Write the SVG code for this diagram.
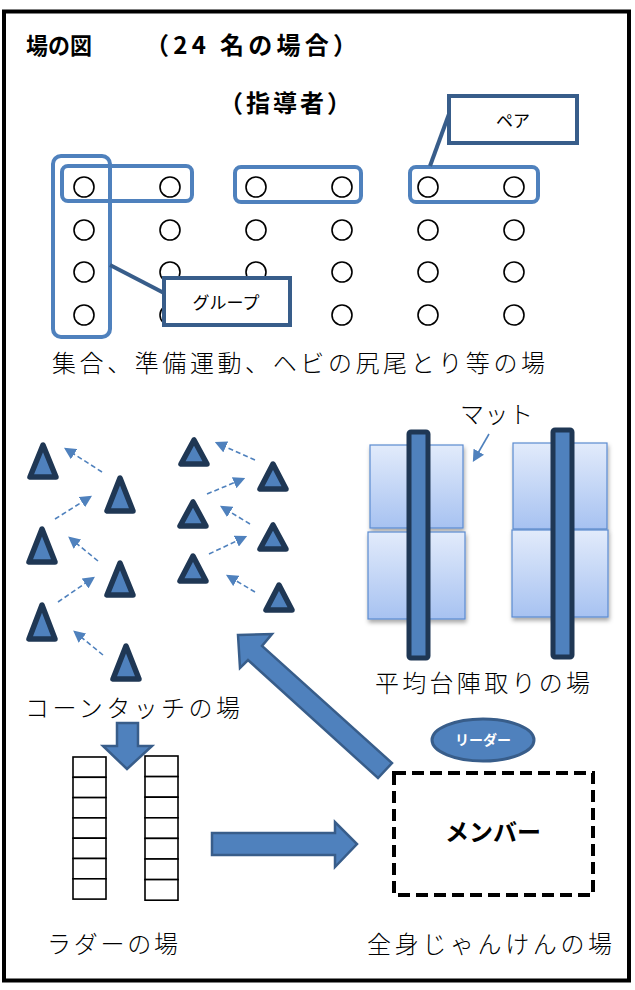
<svg xmlns="http://www.w3.org/2000/svg" width="635" height="990" viewBox="0 0 635 990">
<style>
.jp{font-family:"Noto Sans CJK JP","Noto Sans",sans-serif;fill:#000}
.lbl{font-size:24px;font-weight:300}
.b{font-weight:bold}
.dot{fill:#fff;stroke:#000;stroke-width:1.6}
.grp{fill:none;stroke:#4F81BD;stroke-width:4}
.call{fill:#fff;stroke:#385D8A;stroke-width:4}
.cline{stroke:#385D8A;stroke-width:4;fill:none}
.cone{fill:#4F81BD;stroke:#1F3754;stroke-width:5.5;stroke-linejoin:round}
.dash{stroke:#4F81BD;stroke-width:1.6;stroke-dasharray:5 3;fill:none}
.mat{fill:url(#mg);stroke:#5B8BD0;stroke-width:1.2;filter:url(#sh)}
.beam{fill:#4F81BD;stroke:#1F3754;stroke-width:5;stroke-linejoin:round}
.big{fill:#4F81BD;stroke:#385D8A;stroke-width:2.5;stroke-linejoin:miter}
.lad{fill:#fff;stroke:#000;stroke-width:1.6}
</style>
<defs>
<linearGradient id="mg" x1="0" y1="0" x2="0" y2="1">
<stop offset="0" stop-color="#E2EBFB"/>
<stop offset="1" stop-color="#A7C2F1"/>
</linearGradient>
<filter id="sh" x="-20%" y="-20%" width="140%" height="140%">
<feDropShadow dx="1" dy="3" stdDeviation="2" flood-color="#000" flood-opacity="0.35"/>
</filter>
<marker id="tri" viewBox="0 0 10 10" refX="8" refY="5" markerWidth="12" markerHeight="12" orient="auto" markerUnits="userSpaceOnUse">
<path d="M0,0 L10,5 L0,10 z" fill="#4F81BD"/>
</marker>
</defs>

<rect x="4" y="11.5" width="625" height="969" fill="#fff" stroke="#000" stroke-width="4"/>

<g id="title">
<text class="jp b" x="26" y="54" font-size="23" textLength="66" lengthAdjust="spacingAndGlyphs">場の図</text>
<text class="jp b" x="145" y="54" font-size="24" textLength="212" lengthAdjust="spacing">（24 名の場合）</text>
</g>
<g id="leader-top">
<text class="jp b" x="219" y="112" font-size="24" textLength="132" lengthAdjust="spacing">（指導者）</text>
</g>

<g id="players">
<circle class="dot" cx="84" cy="187" r="10"/><circle class="dot" cx="170" cy="187" r="10"/><circle class="dot" cx="256" cy="187" r="10"/><circle class="dot" cx="342" cy="187" r="10"/><circle class="dot" cx="428" cy="187" r="10"/><circle class="dot" cx="514" cy="187" r="10"/>
<circle class="dot" cx="84" cy="230" r="10"/><circle class="dot" cx="170" cy="230" r="10"/><circle class="dot" cx="256" cy="230" r="10"/><circle class="dot" cx="342" cy="230" r="10"/><circle class="dot" cx="428" cy="230" r="10"/><circle class="dot" cx="514" cy="230" r="10"/>
<circle class="dot" cx="84" cy="272" r="10"/><circle class="dot" cx="170" cy="272" r="10"/><circle class="dot" cx="256" cy="272" r="10"/><circle class="dot" cx="342" cy="272" r="10"/><circle class="dot" cx="428" cy="272" r="10"/><circle class="dot" cx="514" cy="272" r="10"/>
<circle class="dot" cx="84" cy="315" r="10"/><circle class="dot" cx="170" cy="315" r="10"/><circle class="dot" cx="256" cy="315" r="10"/><circle class="dot" cx="342" cy="315" r="10"/><circle class="dot" cx="428" cy="315" r="10"/><circle class="dot" cx="514" cy="315" r="10"/>
</g>

<g id="pair-boxes">
<rect class="grp" x="62" y="166" width="130" height="35" rx="6"/>
<rect class="grp" x="235" y="167" width="126" height="35" rx="6"/>
<rect class="grp" x="410" y="167" width="128" height="35" rx="6"/>
</g>
<g id="group-box">
<rect class="grp" x="53" y="156" width="57" height="181" rx="8"/>
</g>

<g id="connectors">
<line class="cline" x1="430" y1="166" x2="449" y2="114"/>
<line class="cline" x1="110" y1="265" x2="164" y2="293"/>
</g>

<g id="pair-label">
<rect class="call" x="449" y="96" width="128" height="47"/>
<text class="jp" x="513" y="127" font-size="17" text-anchor="middle">ペア</text>
</g>
<g id="group-label">
<rect class="call" x="164" y="278" width="126" height="47"/>
<text class="jp" x="226" y="309" font-size="17" text-anchor="middle">グループ</text>
</g>

<g id="label-gather">
<text class="jp lbl" x="52" y="372" textLength="493" lengthAdjust="spacing">集合、準備運動、ヘビの尻尾とり等の場</text>
</g>

<g id="cones">
<polygon class="cone" points="43,445 30,477 56,477"/>
<polygon class="cone" points="120,478 107,511 133,511"/>
<polygon class="cone" points="42,529 29,562 55,562"/>
<polygon class="cone" points="120,563 107,595 133,595"/>
<polygon class="cone" points="42,605 29,639 55,639"/>
<polygon class="cone" points="126,646 113,679 139,679"/>
<polygon class="cone" points="194,440 181,464 207,464"/>
<polygon class="cone" points="273,464 260,489 286,489"/>
<polygon class="cone" points="193,502 180,526 206,526"/>
<polygon class="cone" points="273,525 260,549 286,549"/>
<polygon class="cone" points="193,556 180,581 206,581"/>
<polygon class="cone" points="279,585 266,610 292,610"/>
</g>

<g id="cone-arrows">
<line class="dash" x1="102" y1="472" x2="66" y2="449" marker-end="url(#tri)"/>
<line class="dash" x1="55" y1="519" x2="90" y2="497" marker-end="url(#tri)"/>
<line class="dash" x1="98" y1="561" x2="70" y2="538" marker-end="url(#tri)"/>
<line class="dash" x1="58" y1="602" x2="93" y2="578" marker-end="url(#tri)"/>
<line class="dash" x1="103" y1="655" x2="75" y2="632" marker-end="url(#tri)"/>
<line class="dash" x1="255" y1="460" x2="217" y2="443" marker-end="url(#tri)"/>
<line class="dash" x1="207" y1="494" x2="243" y2="479" marker-end="url(#tri)"/>
<line class="dash" x1="250" y1="524" x2="222" y2="507" marker-end="url(#tri)"/>
<line class="dash" x1="209" y1="554" x2="245" y2="537" marker-end="url(#tri)"/>
<line class="dash" x1="255" y1="592" x2="228" y2="576" marker-end="url(#tri)"/>
</g>

<g id="label-cone">
<text class="jp lbl" x="25" y="717" textLength="215" lengthAdjust="spacing">コーンタッチの場</text>
</g>

<g id="mats">
<rect class="mat" x="370" y="445" width="93" height="83"/>
<rect class="mat" x="368" y="532" width="97" height="87"/>
<rect class="mat" x="513" y="443" width="94" height="86"/>
<rect class="mat" x="512" y="530" width="96" height="87"/>
</g>
<g id="beams">
<rect class="beam" x="409" y="432" width="19" height="226" rx="2"/>
<rect class="beam" x="553" y="430" width="19" height="227" rx="2"/>
</g>
<g id="mat-label">
<text class="jp lbl" x="460" y="423" textLength="73" lengthAdjust="spacing">マット</text>
<line x1="489" y1="434" x2="474" y2="460" stroke="#4F81BD" stroke-width="1.6" marker-end="url(#tri)"/>
</g>
<g id="label-beam">
<text class="jp lbl" x="375" y="692" textLength="215" lengthAdjust="spacing">平均台陣取りの場</text>
</g>

<g id="big-arrows">
<polygon class="big" points="238,635 272,634 262,646 392,763 378,778 248,660 240,668"/>
<polygon class="big" points="117,723 138,723 138,746 152,746 127,769 103,746 117,746"/>
<polygon class="big" points="212,833 335,833 335,822 357,844 335,867 335,855 212,855"/>
</g>

<g id="ladders">
<rect class="lad" x="73" y="757" width="33" height="20.3"/><rect class="lad" x="73" y="777.3" width="33" height="20.3"/><rect class="lad" x="73" y="797.6" width="33" height="20.3"/><rect class="lad" x="73" y="817.9" width="33" height="20.3"/><rect class="lad" x="73" y="838.2" width="33" height="20.3"/><rect class="lad" x="73" y="858.5" width="33" height="20.3"/><rect class="lad" x="73" y="878.8" width="33" height="20.3"/>
<rect class="lad" x="145" y="756" width="33" height="20.6"/><rect class="lad" x="145" y="776.6" width="33" height="20.6"/><rect class="lad" x="145" y="797.2" width="33" height="20.6"/><rect class="lad" x="145" y="817.8" width="33" height="20.6"/><rect class="lad" x="145" y="838.4" width="33" height="20.6"/><rect class="lad" x="145" y="859" width="33" height="20.6"/><rect class="lad" x="145" y="879.6" width="33" height="20.6"/>
</g>
<g id="label-ladder">
<text class="jp lbl" x="47" y="953" textLength="131" lengthAdjust="spacing">ラダーの場</text>
</g>

<g id="leader">
<ellipse cx="483" cy="740" rx="51" ry="21" fill="#4F81BD" stroke="#385D8A" stroke-width="3"/>
<text class="jp b" x="483" y="745" font-size="14" text-anchor="middle" style="fill:#fff">リーダー</text>
</g>
<g id="members">
<rect x="394" y="773" width="199" height="122" fill="none" stroke="#000" stroke-width="4" stroke-dasharray="12 6"/>
<text class="jp b" x="493" y="841" font-size="24" text-anchor="middle">メンバー</text>
</g>
<g id="label-janken">
<text class="jp lbl" x="367" y="953" textLength="245" lengthAdjust="spacing">全身じゃんけんの場</text>
</g>
</svg>
